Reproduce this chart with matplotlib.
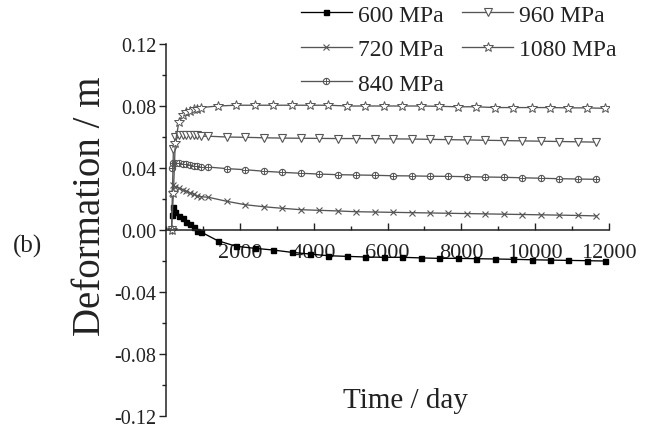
import matplotlib
matplotlib.use("Agg")
import matplotlib.pyplot as plt
from matplotlib.ticker import MultipleLocator, FuncFormatter
from matplotlib.legend_handler import HandlerTuple

plt.rcParams['font.family'] = ['Liberation Serif', 'DejaVu Serif']

# ---------------- data ----------------
labels = ["600 MPa", "720 MPa", "840 MPa", "960 MPa", "1080 MPa"]

t_early = [150, 200, 250, 350, 450, 550, 650, 750, 850, 950]
t_late_a = [1400, 1900, 2400, 2900, 3400, 3900, 4400, 4900, 5400, 5900, 6400,
            6900, 7400, 7900, 8400, 8900, 9400, 9900, 10400, 10900, 11400, 11900]
t_late_b = [1150, 1650, 2150, 2650, 3150, 3650, 4150, 4650, 5150, 5650, 6150,
            6650, 7150, 7650, 8150, 8650, 9150, 9650, 10150, 10650, 11150, 11650]

d600 = [0.0100, 0.0146, 0.0114, 0.0092, 0.0075, 0.0054, 0.0039, 0.0021, -0.0005, -0.0013,
        -0.0069, -0.0105, -0.0118, -0.0129, -0.0144, -0.0155, -0.0166, -0.0170, -0.0174, -0.0176,
        -0.0176, -0.0180, -0.0183, -0.0183, -0.0185, -0.0187, -0.0189, -0.0192, -0.0194, -0.0196,
        -0.0198, -0.0200]
d720 = [0.024, 0.029, 0.028, 0.027, 0.026, 0.025, 0.024, 0.023, 0.022, 0.0215,
        0.0211, 0.0185, 0.0163, 0.0150, 0.0140, 0.0131, 0.0127, 0.0123, 0.0118, 0.0116,
        0.0114, 0.0112, 0.0110, 0.0108, 0.0106, 0.0104, 0.0102, 0.0100, 0.0098, 0.0096,
        0.0094, 0.0091]
d840 = [0.040, 0.0435, 0.0435, 0.0432, 0.0428, 0.0424, 0.0420, 0.0416, 0.0412, 0.0408,
        0.0406, 0.0396, 0.0389, 0.0379, 0.0372, 0.0366, 0.0361, 0.0357, 0.0355, 0.0353,
        0.0350, 0.0349, 0.0347, 0.0346, 0.0344, 0.0342, 0.0340, 0.0337, 0.0334, 0.0331,
        0.0329, 0.0327]
d960 = [0.000, 0.052, 0.060, 0.061, 0.061, 0.061, 0.061, 0.061, 0.061, 0.0605,
        0.0605, 0.0600, 0.0598, 0.0595, 0.0593, 0.0592, 0.0591, 0.0590, 0.0590, 0.0589,
        0.0588, 0.0587, 0.0585, 0.0583, 0.0581, 0.0579, 0.0577, 0.0575, 0.0573, 0.0571,
        0.0569, 0.0567]
d1080 = [0.000, 0.024, 0.056, 0.070, 0.074, 0.076, 0.077, 0.078, 0.078, 0.079,
         0.0800, 0.0805, 0.0805, 0.0805, 0.0805, 0.0805, 0.0805, 0.0800, 0.0800, 0.0800,
         0.0800, 0.0800, 0.0798, 0.0795, 0.0795, 0.0790, 0.0790, 0.0790, 0.0790, 0.0788,
         0.0788, 0.0785]

x_ticks = [2000, 4000, 6000, 8000, 10000, 12000]
y_ticks = [-0.12, -0.08, -0.04, 0.00, 0.04, 0.08, 0.12]

# ---------------- figure ----------------
fig = plt.figure(figsize=(6.46, 4.27), dpi=100)
ax = fig.add_axes([0.257, 0.0234, 0.6858, 0.8712])

gray = "#555555"
lw = 0.95
t_a = t_early + t_late_a
t_b = t_early + t_late_b

h600, = ax.plot(t_a, d600, color="black", lw=lw, marker="s", ms=3.6,
                mfc="black", mec="black")
h720, = ax.plot(t_b, d720, color=gray, lw=lw, marker="x", ms=5, mew=0.8, mec=gray)
h840, = ax.plot(t_b, d840, color=gray, lw=lw, marker="o", ms=4.5, mfc="white",
                mec=gray, mew=0.8)
h840p, = ax.plot(t_b, d840, ls="none", marker="+", ms=4.5, mec=gray, mew=0.7)
h960, = ax.plot(t_b, d960, color=gray, lw=lw, marker="v", ms=6, mfc="white",
                mec=gray, mew=0.8)
h1080, = ax.plot(t_a, d1080, color=gray, lw=lw, marker="*", ms=7.5, mfc="white",
                 mec=gray, mew=0.7)

ax.set_xlim(0, 12000)
ax.set_ylim(-0.12, 0.12)

for s in ["top", "right"]:
    ax.spines[s].set_visible(False)
ax.spines["bottom"].set_position(("data", 0))
for s in ["left", "bottom"]:
    ax.spines[s].set_linewidth(1.1)
    ax.spines[s].set_color("#222222")

ax.set_xticks(x_ticks)
ax.xaxis.set_minor_locator(MultipleLocator(1000))
ax.set_yticks(y_ticks)
ax.yaxis.set_minor_locator(MultipleLocator(0.02))
ax.yaxis.set_major_formatter(FuncFormatter(lambda v, p: "%.2f" % v if abs(v) > 1e-9 else "0.00"))

ax.tick_params(axis="x", which="major", direction="in", length=5, width=1.0,
               labelsize=16, pad=9, colors="#222222")
ax.tick_params(axis="x", which="minor", direction="in", length=3, width=1.0, colors="#222222")
ax.tick_params(axis="y", which="major", direction="out", length=5, width=1.0,
               labelsize=14.5, pad=2, colors="#222222")
ax.tick_params(axis="y", which="minor", direction="out", length=3, width=1.0, colors="#222222")

fig.text(90 / 646, 1 - 206 / 427, "Deformation / m", rotation=90, ha="center", va="center",
         fontsize=28, color="#222222")
fig.text(0.628, 0.06, "Time / day", ha="center", va="center", fontsize=21,
         color="#222222")
fig.text(0.043, 0.422, "(b)", ha="center", va="center", fontsize=18, color="#222222")

handles = [h600, h720, (h840, h840p), h960, h1080]
leg = fig.legend(handles, labels, ncol=2, loc="upper left",
                 bbox_to_anchor=(301 / 646, 1 - 5 / 427), frameon=False,
                 fontsize=17, handlelength=2.15, handletextpad=0.25,
                 columnspacing=0.8, labelspacing=0.55, borderpad=0,
                 borderaxespad=0,
                 handler_map={tuple: HandlerTuple(ndivide=1, pad=0)})
for txt in leg.get_texts():
    txt.set_color("#222222")

fig.savefig("out.png", dpi=100)
